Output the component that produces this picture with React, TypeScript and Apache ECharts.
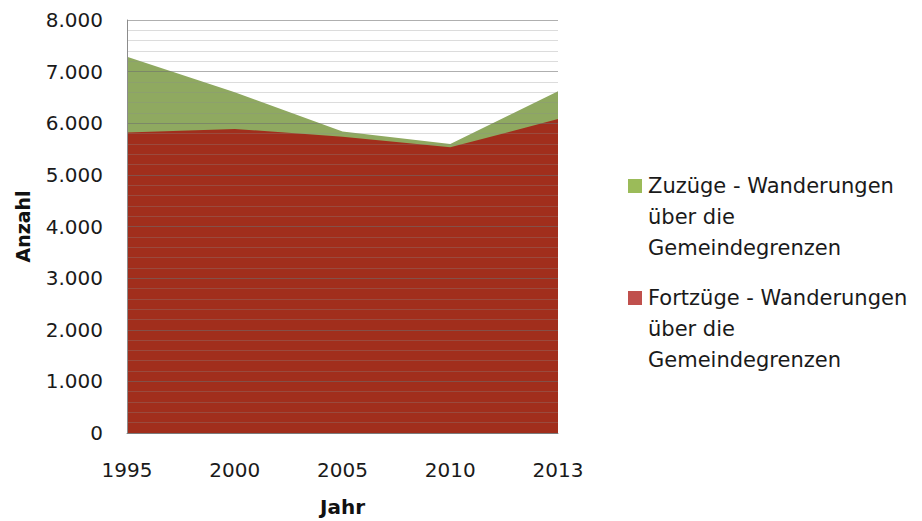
import React, { useEffect, useRef } from "react";
import * as echarts from "echarts";

const years = ["1995", "2000", "2005", "2010", "2013"];
const zuzuege = [7290, 6600, 5840, 5600, 6620];
const fortzuege = [5820, 5890, 5740, 5535, 6080];
const legendLines = [
  ["Zuzüge - Wanderungen", "über die", "Gemeindegrenzen"],
  ["Fortzüge - Wanderungen", "über die", "Gemeindegrenzen"],
];
const legendColors = ["#9BBB59", "#C0504D"];

const FONT = "'DejaVu Sans', sans-serif";

export default function App() {
  const ref = useRef<HTMLDivElement>(null);
  useEffect(() => {
    document.body.style.margin = "0";
    const chart = echarts.init(ref.current!, null, { renderer: "svg" });
    const legendGraphics: any[] = [];
    legendLines.forEach((lines, i) => {
      const top = 170 + i * 112;
      legendGraphics.push({
        type: "rect",
        shape: { x: 628, y: top + 9, width: 14, height: 14 },
        style: { fill: legendColors[i] },
      });
      legendGraphics.push({
        type: "text",
        x: 648,
        y: top,
        style: {
          text: lines.join("\n"),
          font: `21px ${FONT}`,
          lineHeight: 31,
          fill: "#1a1a1a",
          textVerticalAlign: "top",
        },
      });
    });
    chart.setOption({
      animation: false,
      backgroundColor: "#ffffff",
      grid: { left: 127, right: 364, top: 20, bottom: 88, containLabel: false, outerBoundsMode: "none" },
      xAxis: {
        type: "category",
        data: years,
        boundaryGap: false,
        name: "Jahr",
        nameLocation: "middle",
        nameGap: 64,
        nameTextStyle: { fontFamily: FONT, fontSize: 20, fontWeight: "bold", color: "#111" },
        axisLine: { lineStyle: { color: "#8c8c8c" } },
        axisTick: { show: false },
        axisLabel: { fontFamily: FONT, fontSize: 20, color: "#1a1a1a", margin: 27 },
        splitLine: { show: false },
      },
      yAxis: {
        type: "value",
        min: 0,
        max: 8000,
        interval: 1000,
        z: 5,
        name: "Anzahl",
        nameLocation: "middle",
        nameRotate: 90,
        nameGap: 95,
        nameTextStyle: { fontFamily: FONT, fontSize: 19, fontWeight: "bold", color: "#111" },
        axisLine: { show: true, lineStyle: { color: "#8c8c8c" } },
        axisTick: { show: false },
        axisLabel: {
          fontFamily: FONT,
          fontSize: 20,
          color: "#1a1a1a",
          margin: 24,
          formatter: (v: number) => (v === 0 ? "0" : `${v / 1000}.000`),
        },
        splitLine: { show: true, lineStyle: { color: "rgba(110,110,110,0.55)", width: 1 } },
        minorTick: { show: false, splitNumber: 5 },
        minorSplitLine: { show: true, lineStyle: { color: "rgba(140,140,140,0.3)", width: 1 } },
      },
      series: [
        {
          name: "Zuzüge - Wanderungen über die Gemeindegrenzen",
          type: "line",
          data: zuzuege,
          symbol: "none",
          lineStyle: { width: 0 },
          areaStyle: { color: "#8FA960", opacity: 1 },
          z: 1,
        },
        {
          name: "Fortzüge - Wanderungen über die Gemeindegrenzen",
          type: "line",
          data: fortzuege,
          symbol: "none",
          lineStyle: { width: 0 },
          areaStyle: { color: "#A12E1C", opacity: 1 },
          z: 2,
        },
      ],
      graphic: legendGraphics,
    });
    return () => chart.dispose();
  }, []);
  return <div ref={ref} style={{ width: 922, height: 521 }} />;
}
